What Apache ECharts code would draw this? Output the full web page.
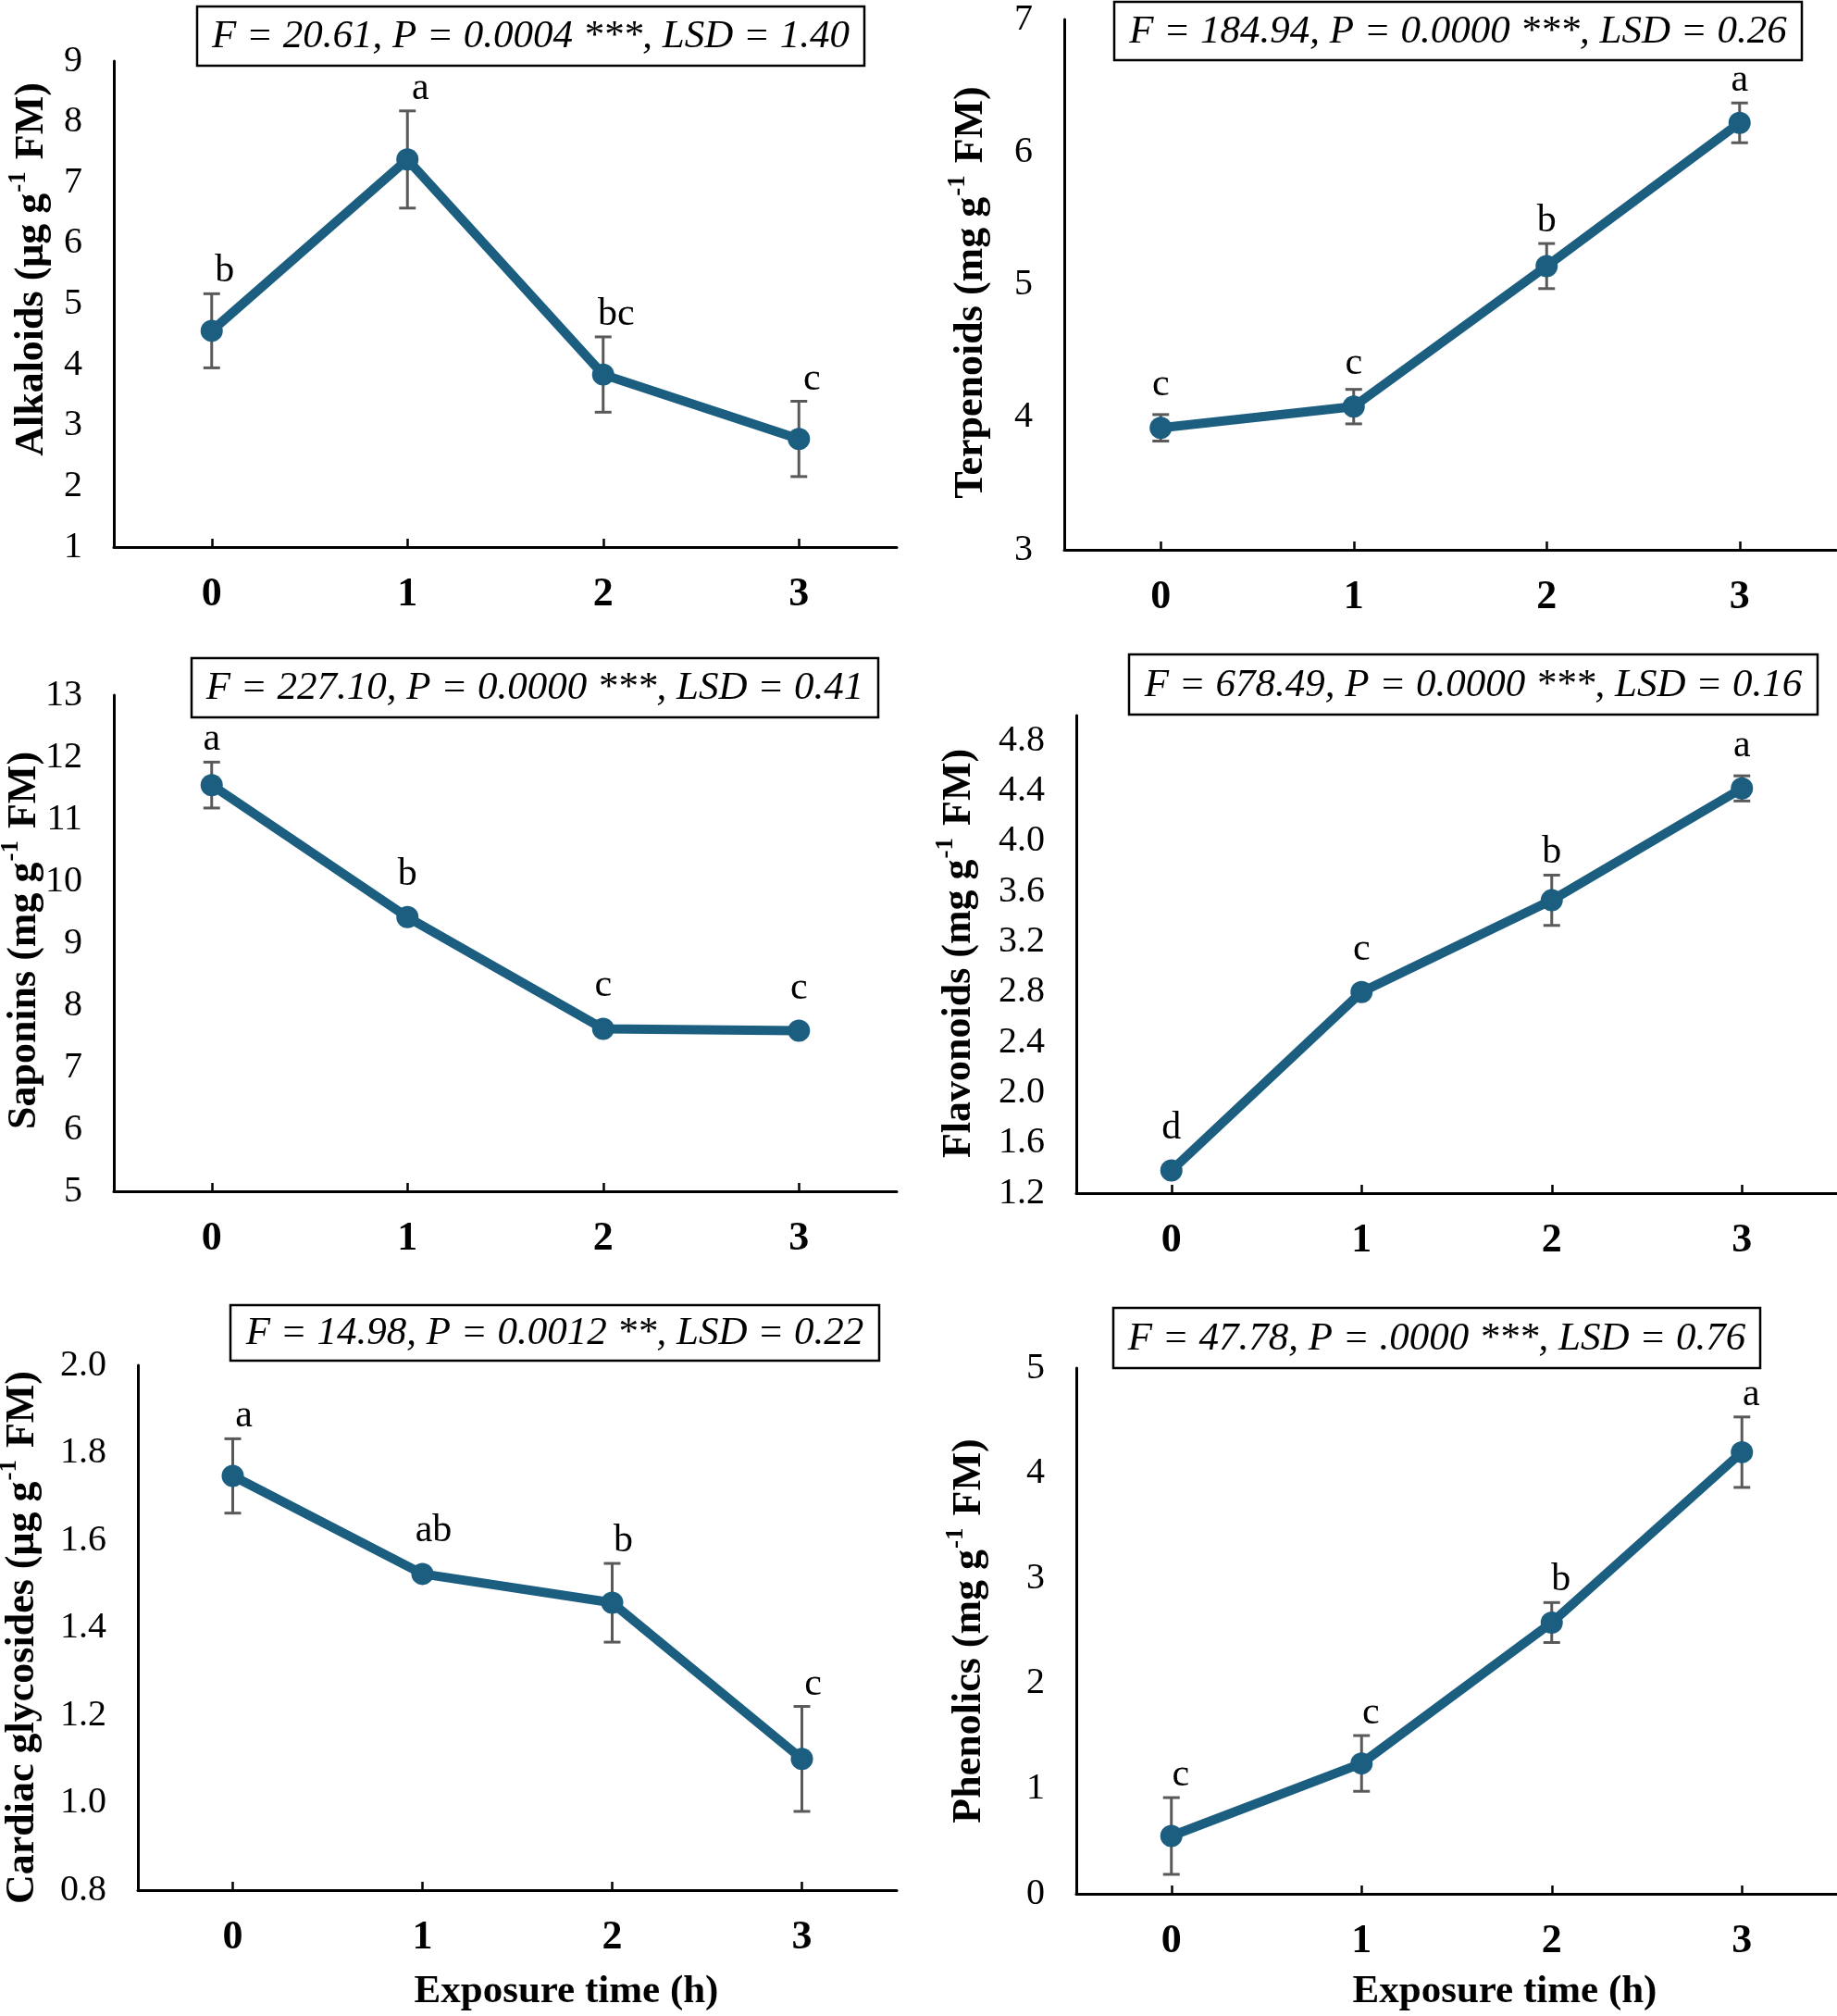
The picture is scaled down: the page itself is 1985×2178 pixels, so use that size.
<!DOCTYPE html>
<html>
<head>
<meta charset="utf-8">
<script src="https://cdn.jsdelivr.net/npm/echarts@6/dist/echarts.min.js"></script>
<style>
  html, body { margin: 0; padding: 0; background: #fff; }
  #view { width: 1985px; height: 2178px; }
</style>
</head>
<body>
<div id="view"></div>
<script>
var myChart = echarts.init(document.getElementById('view'));

// exposure time categories
var times = ['0', '1', '2', '3'];

// means, error bars and significance letters
var alkaloids = [4.56, 7.38, 3.84, 2.78];
var alkaloidsErr = [0.61, 0.80, 0.62, 0.62];
var alkaloidsSig = ['b', 'a', 'bc', 'c'];

var terpenoids = [3.92, 4.08, 5.14, 6.22];
var terpenoidsErr = [0.10, 0.13, 0.17, 0.15];
var terpenoidsSig = ['c', 'c', 'b', 'a'];

var saponins = [11.55, 9.42, 7.62, 7.59];
var saponinsErr = [0.37, 0.06, 0.07, 0.04];
var saponinsSig = ['a', 'b', 'c', 'c'];

var flavonoids = [1.38, 2.80, 3.53, 4.42];
var flavonoidsErr = [0.03, 0.04, 0.20, 0.10];
var flavonoidsSig = ['d', 'c', 'b', 'a'];

var cardiac = [1.747, 1.523, 1.457, 1.10];
var cardiacErr = [0.085, 0.01, 0.09, 0.12];
var cardiacSig = ['a', 'ab', 'b', 'c'];

var phenolics = [0.55, 1.24, 2.58, 4.20];
var phenolicsErr = [0.365, 0.265, 0.19, 0.335];
var phenolicsSig = ['c', 'c', 'b', 'a'];

var stats = [
    'F = 20.61, P = 0.0004 ***, LSD = 1.40',
    'F = 184.94, P = 0.0000 ***, LSD = 0.26',
    'F = 227.10, P = 0.0000 ***, LSD = 0.41',
    'F = 678.49, P = 0.0000 ***, LSD = 0.16',
    'F = 14.98, P = 0.0012 **, LSD = 0.22',
    'F = 47.78, P = .0000 ***, LSD = 0.76'
];
var yNames = ['Alkaloids', 'Terpenoids', 'Saponins', 'Flavonoids', 'Cardiac glycosides', 'Phenolics'];
var yUnits = ['μg', 'mg', 'mg', 'mg', 'μg', 'mg'];

// y axis ranges (min, max, step)
var yMin = [1, 3, 5, 1.2, 0.8, 0];
var yMax = [9, 7, 13, 5.0, 2.0, 5];
var yStep = [1, 1, 1, 0.4, 0.2, 1];
var yDec = [0, 0, 0, 1, 1, 0];

var series = [
    [alkaloids, alkaloidsErr, alkaloidsSig],
    [terpenoids, terpenoidsErr, terpenoidsSig],
    [saponins, saponinsErr, saponinsSig],
    [flavonoids, flavonoidsErr, flavonoidsSig],
    [cardiac, cardiacErr, cardiacSig],
    [phenolics, phenolicsErr, phenolicsSig]
];

// panel layout (pixels)
var layout = [
    {left: 123, top: 66, width: 846, height: 525, tx: 32, ty: 291, box: [213, 7, 721, 64], dx: 14},
    {left: 1150, top: 21, width: 834, height: 573, tx: 1047, ty: 316, box: [1204, 2, 743, 63], dx: 0},
    {left: 123, top: 751, width: 846, height: 536, tx: 24, ty: 1016, box: [207, 711, 742, 64], dx: 0},
    {left: 1163, top: 773, width: 828, height: 516, tx: 1034, ty: 1030, box: [1220, 707, 744, 65], dx: 0},
    {left: 149, top: 1475, width: 820, height: 567, tx: 22, ty: 1769, box: [249, 1410, 701, 60], dx: 12},
    {left: 1163, top: 1478, width: 832, height: 568, tx: 1045, ty: 1762, box: [1203, 1413, 699, 65], dx: 10}
];

var FONT = '"Liberation Serif", "Times New Roman", serif';
var LINE = '#1b5e80';
var ERR = '#595959';

var grids = [], xAxes = [], yAxes = [], allSeries = [], graphics = [];

layout.forEach(function (g, k) {
    grids.push({left: g.left, top: g.top, width: g.width, height: g.height});
    xAxes.push({
        type: 'category',
        gridIndex: k,
        data: times,
        axisLine: {lineStyle: {color: '#000', width: 3}},
        axisTick: {show: true, inside: true, alignWithLabel: true, length: 9, lineStyle: {color: '#000', width: 2.5}},
        axisLabel: {color: '#000', fontFamily: FONT, fontWeight: 'bold', fontSize: 44, margin: 30},
        splitLine: {show: false}
    });
    yAxes.push({
        type: 'value',
        gridIndex: k,
        min: yMin[k],
        max: yMax[k],
        interval: yStep[k],
        axisLine: {show: true, lineStyle: {color: '#000', width: 3}},
        axisTick: {show: false},
        splitLine: {show: false},
        axisLabel: {
            color: '#000', fontFamily: FONT, fontSize: 40, margin: 34,
            showMaxLabel: k !== 3,
            formatter: (function (d) { return function (v) { return v.toFixed(d); }; })(yDec[k])
        }
    });

    var vals = series[k][0], errs = series[k][1], sig = series[k][2];

    allSeries.push({
        type: 'custom',
        xAxisIndex: k,
        yAxisIndex: k,
        z: 2,
        data: vals.map(function (v, i) { return [i, v, errs[i]]; }),
        renderItem: function (params, api) {
            var x = api.value(0), m = api.value(1), e = api.value(2);
            var top = api.coord([x, m + e]);
            var bot = api.coord([x, m - e]);
            var st = {stroke: ERR, lineWidth: 3};
            return {
                type: 'group',
                children: [
                    {type: 'line', shape: {x1: top[0], y1: top[1], x2: bot[0], y2: bot[1]}, style: st},
                    {type: 'line', shape: {x1: top[0] - 9, y1: top[1], x2: top[0] + 9, y2: top[1]}, style: st},
                    {type: 'line', shape: {x1: bot[0] - 9, y1: bot[1], x2: bot[0] + 9, y2: bot[1]}, style: st}
                ]
            };
        }
    });

    allSeries.push({
        type: 'line',
        xAxisIndex: k,
        yAxisIndex: k,
        z: 3,
        data: vals,
        symbol: 'circle',
        symbolSize: 24,
        lineStyle: {color: LINE, width: 10},
        itemStyle: {color: LINE},
        animation: false
    });

    allSeries.push({
        type: 'custom',
        xAxisIndex: k,
        yAxisIndex: k,
        z: 4,
        data: vals.map(function (v, i) { return [i, v, errs[i]]; }),
        renderItem: function (params, api) {
            var x = api.value(0), m = api.value(1), e = api.value(2);
            var top = api.coord([x, m + e]);
            var pt = api.coord([x, m]);
            var y = Math.min(top[1] - 24, pt[1] - 46);
            return {
                type: 'text',
                style: {
                    x: pt[0] + g.dx, y: y,
                    text: sig[params.dataIndex],
                    fill: '#000', font: '42px ' + FONT,
                    align: 'center', verticalAlign: 'middle'
                }
            };
        }
    });

    // statistics box
    graphics.push({
        type: 'rect',
        shape: {x: g.box[0], y: g.box[1], width: g.box[2], height: g.box[3]},
        style: {fill: '#fff', stroke: '#000', lineWidth: 2.5},
        z: 10
    });
    graphics.push({
        type: 'text',
        x: g.box[0] + g.box[2] / 2,
        y: g.box[1] + g.box[3] / 2 + 1,
        z: 11,
        style: {
            text: stats[k], fill: '#000',
            font: 'italic 43px ' + FONT,
            align: 'center', verticalAlign: 'middle'
        }
    });

    // y axis title, rotated, with superscript
    graphics.push({
        type: 'text',
        x: g.tx,
        y: g.ty,
        rotation: Math.PI / 2,
        z: 11,
        style: {
            text: '{n|' + yNames[k] + ' (' + yUnits[k] + ' g}{s|-1}{n| FM)}',
            align: 'center', verticalAlign: 'middle',
            rich: {
                n: {fontFamily: FONT, fontWeight: 'bold', fontSize: 44, lineHeight: 50, fill: '#000', verticalAlign: 'bottom'},
                s: {fontFamily: FONT, fontWeight: 'bold', fontSize: 27, lineHeight: 50, fill: '#000', verticalAlign: 'top', padding: [0, 2, 24, 1]}
            }
        }
    });
});

// x axis titles under the bottom panels
[[612, 2152], [1626, 2152]].forEach(function (p) {
    graphics.push({
        type: 'text',
        x: p[0], y: p[1],
        style: {
            text: 'Exposure time (h)', fill: '#000',
            font: 'bold 43px ' + FONT,
            align: 'center', verticalAlign: 'middle'
        }
    });
});

option = {
    backgroundColor: '#fff',
    animation: false,
    grid: grids,
    xAxis: xAxes,
    yAxis: yAxes,
    series: allSeries,
    graphic: graphics
};

myChart.setOption(option);
</script>
</body>
</html>
